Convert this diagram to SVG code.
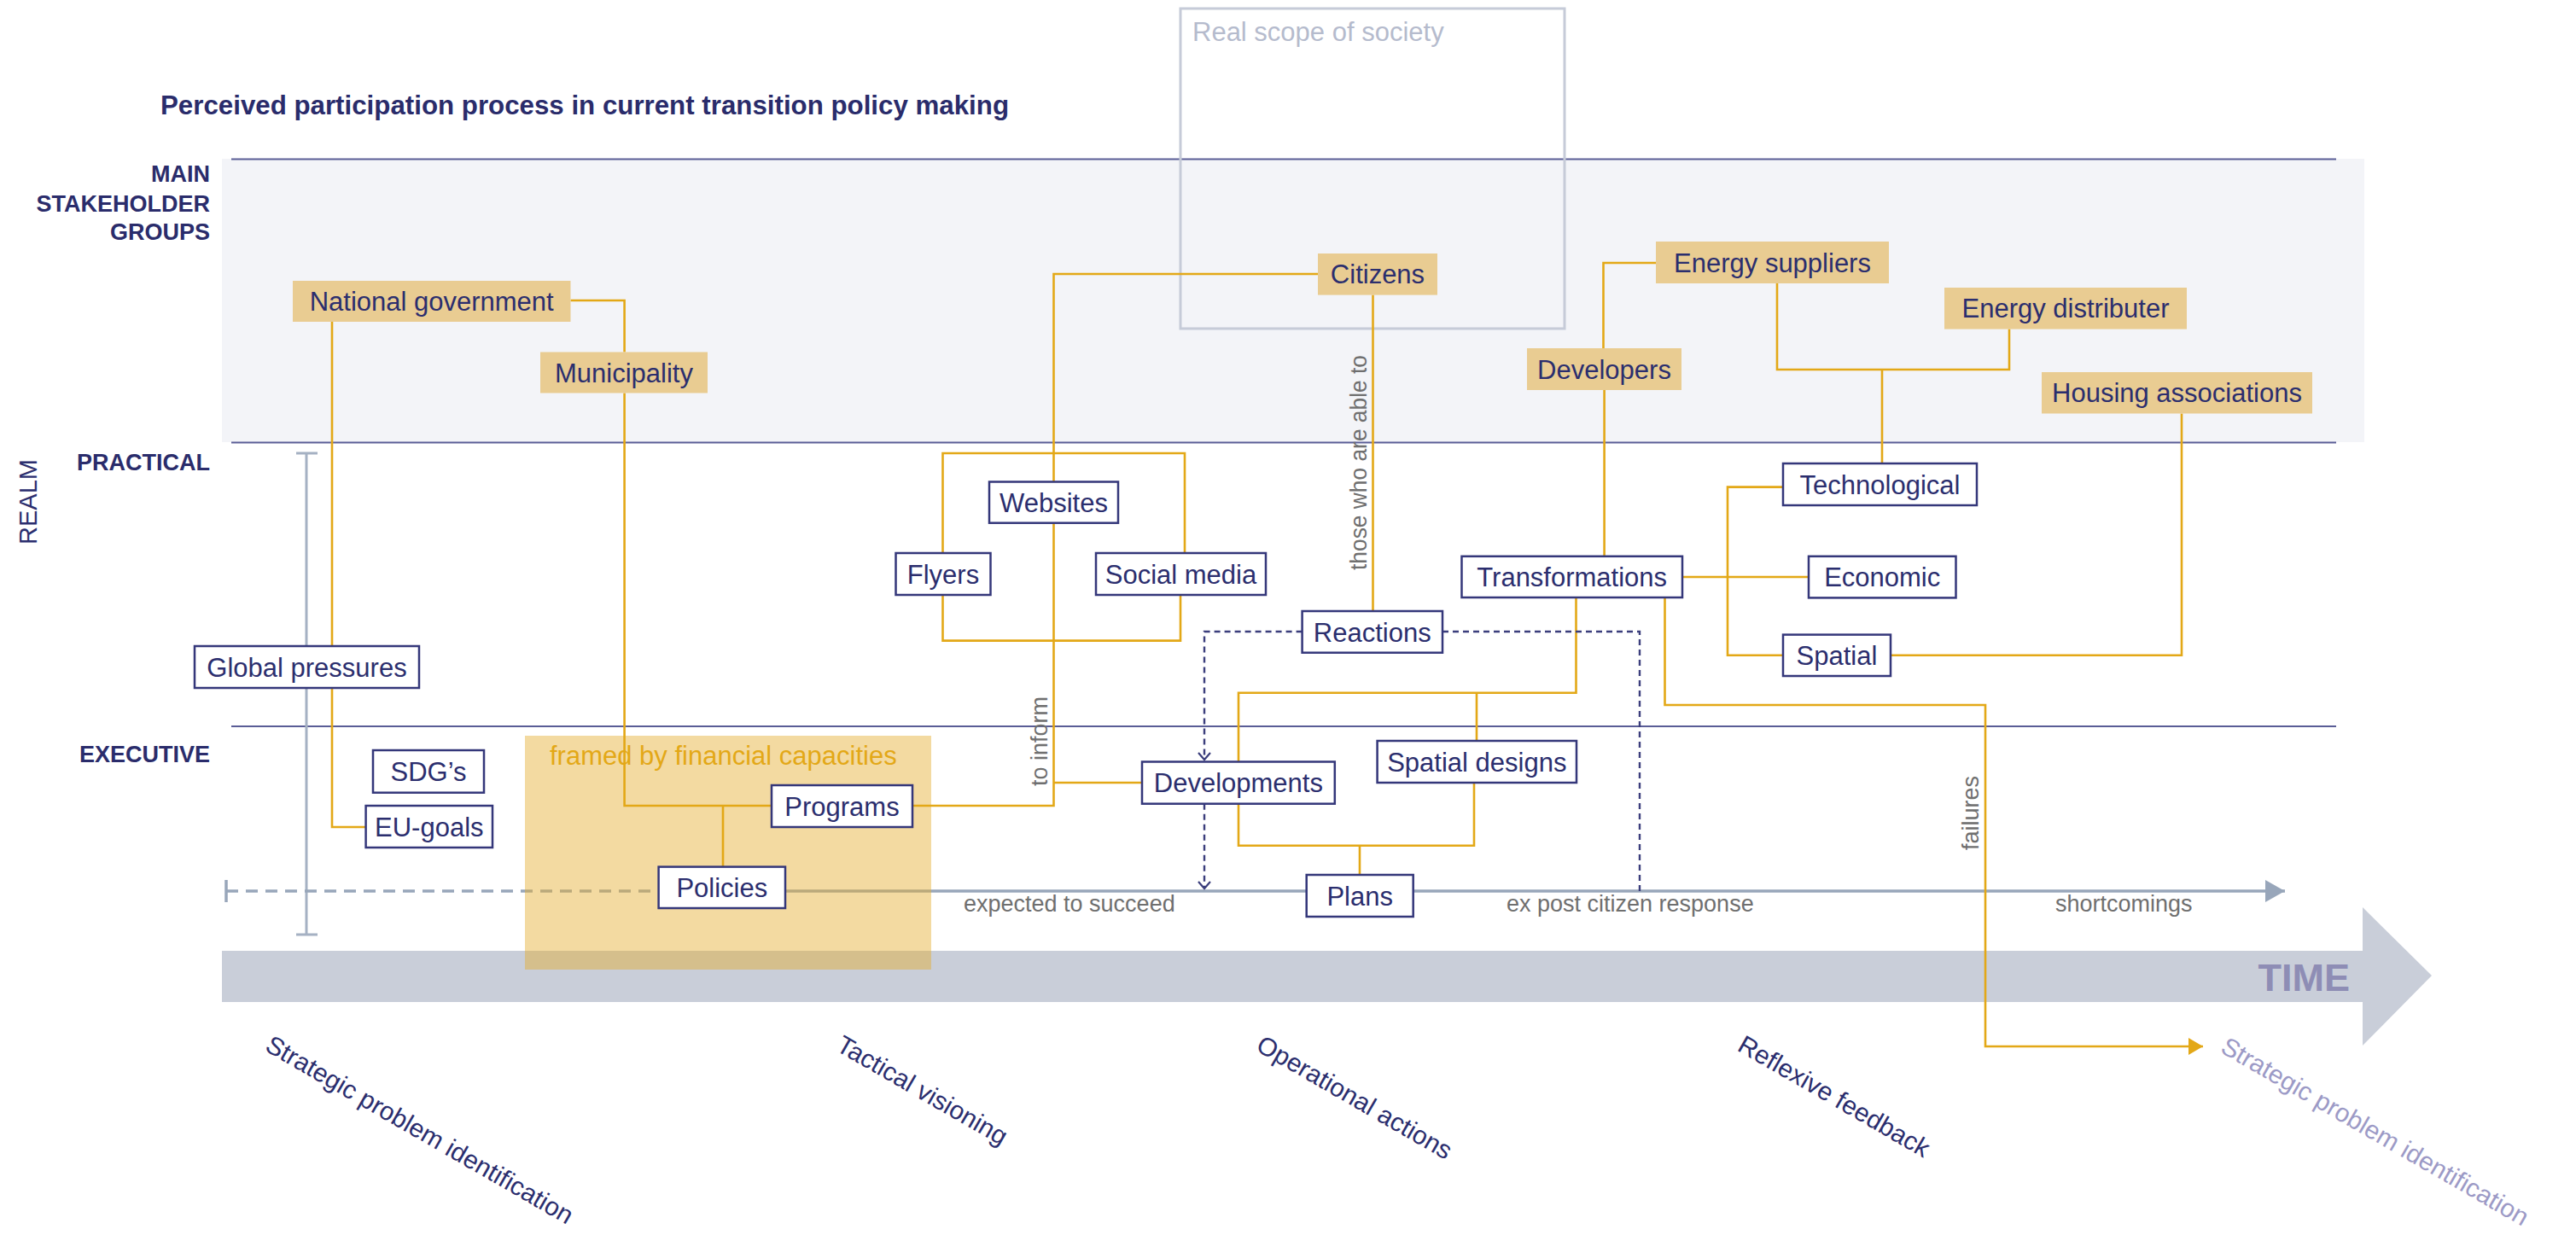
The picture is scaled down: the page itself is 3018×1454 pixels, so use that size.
<svg xmlns="http://www.w3.org/2000/svg" width="3018" height="1454" viewBox="0 0 3018 1454">
<style>
.lbl{font-family:'Liberation Sans',Arial,sans-serif;fill:#2B2E6E}
.hdr{font-family:'Liberation Sans',Arial,sans-serif;font-weight:bold;font-size:27px;fill:#2A2C6B;text-anchor:end}
.nt{font-family:'Liberation Sans',Arial,sans-serif;font-size:31px;fill:#2B2E6E;text-anchor:middle}
.gray{font-family:'Liberation Sans',Arial,sans-serif;font-size:27px;fill:#6F6F6F}
.phase{font-family:'Liberation Sans',Arial,sans-serif;font-size:30px;fill:#2B2E6E}
.gold{fill:#E9CC92}
.wbox{fill:#FFFFFF;stroke:#34377A;stroke-width:2.5}
.gl{fill:none;stroke:#E3A817;stroke-width:2.6}
.dn{fill:none;stroke:#3B3E7C;stroke-width:2.4;stroke-dasharray:7 5}
.bandline{stroke:#5A5D96;stroke-width:2}
.grayline{fill:none;stroke:#98A6BA;stroke-width:3.5}
</style>
<defs>
<marker id="chev" markerUnits="userSpaceOnUse" markerWidth="16" markerHeight="16" refX="14" refY="8" orient="auto">
<path d="M6,1 L14,8 L6,15" fill="none" stroke="#3B3E7C" stroke-width="2.2"/>
</marker>
<marker id="goldArrow" markerUnits="userSpaceOnUse" markerWidth="18" markerHeight="20" refX="17" refY="10" orient="auto">
<path d="M0,0 L17,10 L0,20 Z" fill="#E3A817"/>
</marker>
<marker id="grayArrow" markerUnits="userSpaceOnUse" markerWidth="24" markerHeight="26" refX="23" refY="13" orient="auto">
<path d="M0,0 L23,13 L0,26 Z" fill="#98A6BA"/>
</marker>
</defs>

<rect width="3018" height="1454" fill="#FFFFFF"/>

<!-- background structure -->
<g id="background">
<rect x="260" y="186" width="2510" height="332" fill="#F3F4F8"/>
<line class="bandline" x1="271" y1="186.5" x2="2737" y2="186.5"/>
<line class="bandline" x1="271" y1="518.5" x2="2737" y2="518.5"/>
<line class="bandline" x1="271" y1="851" x2="2737" y2="851"/>
<rect x="1383" y="10" width="450" height="375" fill="none" stroke="#C6CBD8" stroke-width="3"/>
<text x="1397" y="48" style="font-family:'Liberation Sans',Arial,sans-serif;font-size:31px;fill:#B5BBCD">Real scope of society</text>
<path d="M260,1114 H2768 V1063 L2849,1143 L2768,1225 V1174 H260 Z" fill="#C9CED9"/>
<text x="2753" y="1161" style="font-family:'Liberation Sans',Arial,sans-serif;font-weight:bold;font-size:45px;fill:#8E8DB5;text-anchor:end">TIME</text>
<path d="M359,531 V1095 M347,531 H372 M347,1095 H372" fill="none" stroke="#A5B1C3" stroke-width="3"/>
</g>

<!-- titles and row labels -->
<g id="labels">
<text x="188" y="134" textLength="994" lengthAdjust="spacingAndGlyphs" style="font-family:'Liberation Sans',Arial,sans-serif;font-weight:bold;font-size:32px;fill:#2A2C6B">Perceived participation process in current transition policy making</text>
<text class="hdr" x="246" y="213">MAIN</text>
<text class="hdr" x="246" y="247.5">STAKEHOLDER</text>
<text class="hdr" x="246" y="281">GROUPS</text>
<text class="hdr" x="246" y="551">PRACTICAL</text>
<text class="hdr" x="246" y="893">EXECUTIVE</text>
<text class="lbl" transform="translate(43,638) rotate(-90)" font-size="30" textLength="100" lengthAdjust="spacingAndGlyphs">REALM</text>
</g>

<!-- time line (gray) -->
<g id="timeline">
<path class="grayline" d="M265,1044 H771.6" stroke-dasharray="14 9"/>
<path class="grayline" d="M265,1031 V1057"/>
<path class="grayline" d="M920,1044 H1530.7 M1655.7,1044 H2677" marker-end="url(#grayArrow)"/>
<text class="gray" x="1129" y="1068">expected to succeed</text>
<text class="gray" x="1765" y="1068">ex post citizen response</text>
<text class="gray" x="2408" y="1068">shortcomings</text>
</g>

<!-- framed by financial capacities -->
<g id="financial-frame">
<rect x="615" y="862" width="476" height="274" fill="#E5AD2E" fill-opacity="0.45"/>
<text x="644" y="896" style="font-family:'Liberation Sans',Arial,sans-serif;font-size:31px;fill:#E3A817">framed by financial capacities</text>
</g>

<!-- connectors -->
<g id="connectors">
<path class="gl" d="M668.5,352 H731.6 V412.5"/>
<path class="gl" d="M389,377 V757"/>
<path class="gl" d="M389,806 V969 H428.6"/>
<path class="gl" d="M731.6,460.5 V944 H904"/>
<path class="gl" d="M847,944 V1015.6"/>
<path class="gl" d="M1544,321 H1234.5 V564.5"/>
<path class="gl" d="M1234.5,612.7 V944 H1069"/>
<path class="gl" d="M1234.5,917 H1338"/>
<path class="gl" d="M1104.5,648 V531 H1388 V648"/>
<path class="gl" d="M1104.5,697 V750.6 H1383 V697"/>
<path class="gl" d="M1608.5,345.6 V716"/>
<path class="gl" d="M1940,308 H1878.5 V408"/>
<path class="gl" d="M1879.6,457 V651.8"/>
<path class="gl" d="M2082,332 V433 H2354 V385.6"/>
<path class="gl" d="M2205,433 V543"/>
<path class="gl" d="M1971,676 H2119"/>
<path class="gl" d="M2089,570.6 H2024 V767.7 H2089"/>
<path class="gl" d="M2215,767.7 H2556 V484.5"/>
<path class="gl" d="M1846.5,700 V811.8 H1451 V892.5"/>
<path class="gl" d="M1730,811.8 V868"/>
<path class="gl" d="M1451,941.7 V990.7 H1727 V917"/>
<path class="gl" d="M1593,990.7 V1025"/>
<path class="gl" d="M1950.5,700 V826 H2326 V1226 H2581" marker-end="url(#goldArrow)"/>
<path class="dn" d="M1525.6,740 H1411 V890" marker-end="url(#chev)"/>
<path class="dn" d="M1411,941.7 V1041" marker-end="url(#chev)"/>
<path class="dn" d="M1690,740 H1921 V1044"/>
<text class="gray" transform="translate(1601,668) rotate(-90)" textLength="252" lengthAdjust="spacingAndGlyphs">those who are able to</text>
<text class="gray" transform="translate(1227,921) rotate(-90)">to inform</text>
<text class="gray" transform="translate(2318,996) rotate(-90)">failures</text>
</g>

<!-- stakeholder nodes -->
<g id="node-national-government"><rect class="gold" x="343" y="329" width="325.5" height="48"/><text class="nt" x="505.7" y="364">National government</text></g>
<g id="node-municipality"><rect class="gold" x="633" y="412.5" width="196" height="48"/><text class="nt" x="731" y="447.5">Municipality</text></g>
<g id="node-citizens"><rect class="gold" x="1544" y="297" width="140" height="48.6"/><text class="nt" x="1614" y="332">Citizens</text></g>
<g id="node-energy-suppliers"><rect class="gold" x="1940" y="283" width="273" height="49"/><text class="nt" x="2076.5" y="318.5">Energy suppliers</text></g>
<g id="node-developers"><rect class="gold" x="1789" y="408" width="181" height="49"/><text class="nt" x="1879.5" y="443.5">Developers</text></g>
<g id="node-energy-distributer"><rect class="gold" x="2278" y="337" width="284" height="48.6"/><text class="nt" x="2420" y="372">Energy distributer</text></g>
<g id="node-housing-associations"><rect class="gold" x="2392" y="436" width="317" height="48.5"/><text class="nt" x="2550.5" y="471">Housing associations</text></g>

<!-- process nodes -->
<g id="node-global-pressures"><rect class="wbox" x="228" y="757" width="263" height="49"/><text class="nt" x="359.5" y="792.5">Global pressures</text></g>
<g id="node-sdgs"><rect class="wbox" x="437" y="879" width="130" height="49.7"/><text class="nt" x="502" y="915">SDG’s</text></g>
<g id="node-eu-goals"><rect class="wbox" x="428.6" y="944" width="148.4" height="49"/><text class="nt" x="502.8" y="979.5">EU-goals</text></g>
<g id="node-programs"><rect class="wbox" x="904" y="920" width="165" height="49"/><text class="nt" x="986.5" y="955.5">Programs</text></g>
<g id="node-policies"><rect class="wbox" x="771.6" y="1015.6" width="148.4" height="48.4"/><text class="nt" x="845.8" y="1051">Policies</text></g>
<g id="node-flyers"><rect class="wbox" x="1049.5" y="648" width="111" height="49"/><text class="nt" x="1105" y="683.5">Flyers</text></g>
<g id="node-websites"><rect class="wbox" x="1159" y="564.5" width="151" height="48.2"/><text class="nt" x="1234.5" y="600">Websites</text></g>
<g id="node-social-media"><rect class="wbox" x="1284" y="648" width="199" height="49"/><text class="nt" x="1383.5" y="683.5">Social media</text></g>
<g id="node-reactions"><rect class="wbox" x="1525.6" y="716" width="164.4" height="48.7"/><text class="nt" x="1607.8" y="751.5">Reactions</text></g>
<g id="node-developments"><rect class="wbox" x="1338" y="892.5" width="225.8" height="49.2"/><text class="nt" x="1450.9" y="928">Developments</text></g>
<g id="node-spatial-designs"><rect class="wbox" x="1613.6" y="868" width="233.4" height="49"/><text class="nt" x="1730.3" y="903.5">Spatial designs</text></g>
<g id="node-plans"><rect class="wbox" x="1530.7" y="1025" width="125" height="49"/><text class="nt" x="1593.2" y="1060.5">Plans</text></g>
<g id="node-transformations"><rect class="wbox" x="1712.5" y="651.8" width="258.5" height="48.2"/><text class="nt" x="1841.7" y="687">Transformations</text></g>
<g id="node-technological"><rect class="wbox" x="2089" y="543" width="227" height="49"/><text class="nt" x="2202.5" y="578.5">Technological</text></g>
<g id="node-economic"><rect class="wbox" x="2119" y="651.8" width="172.5" height="48.6"/><text class="nt" x="2205.2" y="687">Economic</text></g>
<g id="node-spatial"><rect class="wbox" x="2089" y="743.6" width="126" height="48.4"/><text class="nt" x="2152" y="779">Spatial</text></g>

<!-- phase labels -->
<g id="phases">
<text class="phase" transform="translate(309,1230) rotate(30)">Strategic problem identification</text>
<text class="phase" transform="translate(978,1230) rotate(30)">Tactical visioning</text>
<text class="phase" transform="translate(1470,1230) rotate(30)">Operational actions</text>
<text class="phase" transform="translate(2034,1230) rotate(30)">Reflexive feedback</text>
<text class="phase" transform="translate(2600,1232) rotate(30)" style="fill:#9C9AC6">Strategic problem identification</text>
</g>
</svg>
